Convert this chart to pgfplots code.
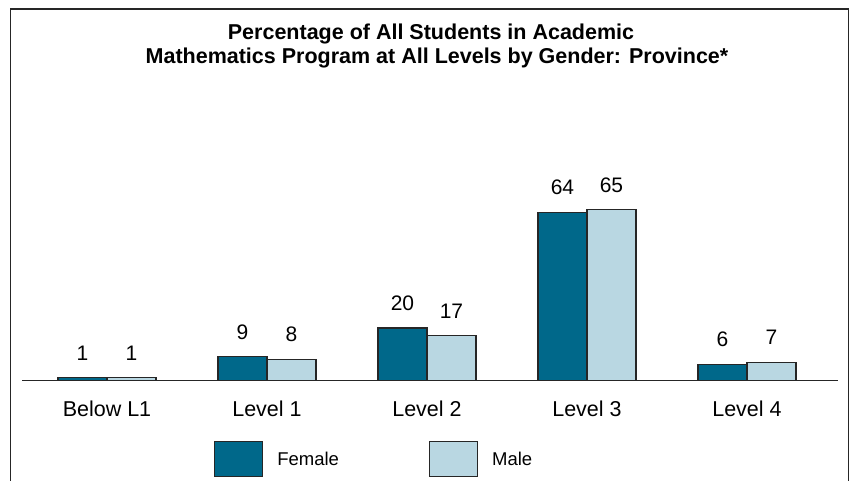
\documentclass[border=0pt]{standalone}
\usepackage{pgfplots}
\pgfplotsset{compat=1.18}
\usepackage{fontspec}
\setmainfont{Liberation Sans}
\definecolor{fem}{RGB}{0,104,138}
\definecolor{mal}{RGB}{185,215,226}
\begin{document}
\begin{tikzpicture}[x=1pt,y=1pt]
\useasboundingbox (0,0) rectangle (855,480);
\draw[line width=1.5pt, black!85] (10.5,-20) -- (10.5,471) -- (848.5,471) -- (848.5,-20);
\node[anchor=base, font=\fontsize{21.5}{24}\selectfont\bfseries] at (431,440) {Percentage of All Students in Academic};
\node[anchor=base, font=\fontsize{21.5}{24}\selectfont\bfseries] at (437,416) {Mathematics Program at All Levels by Gender: Province*};
\begin{axis}[
  at={(22pt,99.5pt)}, anchor=south west,
  scale only axis, width=816pt, height=262.5pt,
  xmin=-0.53125, xmax=4.56875, ymin=0, ymax=100,
  axis x line*=bottom, axis y line=none,
  x axis line style={line width=1pt, black!85},
  ytick=\empty,
  xtick={0,1,2,3,4},
  xticklabels={Below L1, Level 1, Level 2, Level 3, Level 4},
  major tick length=0pt,
  xticklabel style={font=\fontsize{21.5}{24}\selectfont, inner sep=0pt, anchor=north, yshift=-20pt},
  ybar=0pt, bar width=49pt,
  clip=false,
  nodes near coords,
  /pgf/number format/assume math mode=true,
  every node near coord/.append style={font=\fontsize{21}{24}\selectfont, inner sep=0pt, anchor=south, yshift=17pt, text=black},
  legend columns=2,
  legend image code/.code={\draw[#1] (0pt,-17pt) rectangle (48pt,18pt);},
  legend style={at={(rel axis cs:0.2353,-0.299)}, anchor=west, draw=none, fill=none, inner sep=0pt,
    font=\fontsize{18.5}{22}\selectfont,
    nodes={inner sep=0pt},
    /tikz/every odd column/.append style={column sep=14pt},
    /tikz/every even column/.append style={column sep=90pt}},
]
\addplot[fill=fem, draw=black!85, line width=1.1pt] coordinates {(0,1) (1,9) (2,20) (3,64) (4,6)};
\addplot[fill=mal, draw=black!85, line width=1.1pt] coordinates {(0,1) (1,8) (2,17) (3,65) (4,7)};
\legend{Female, Male}
\end{axis}
\end{tikzpicture}
\end{document}
